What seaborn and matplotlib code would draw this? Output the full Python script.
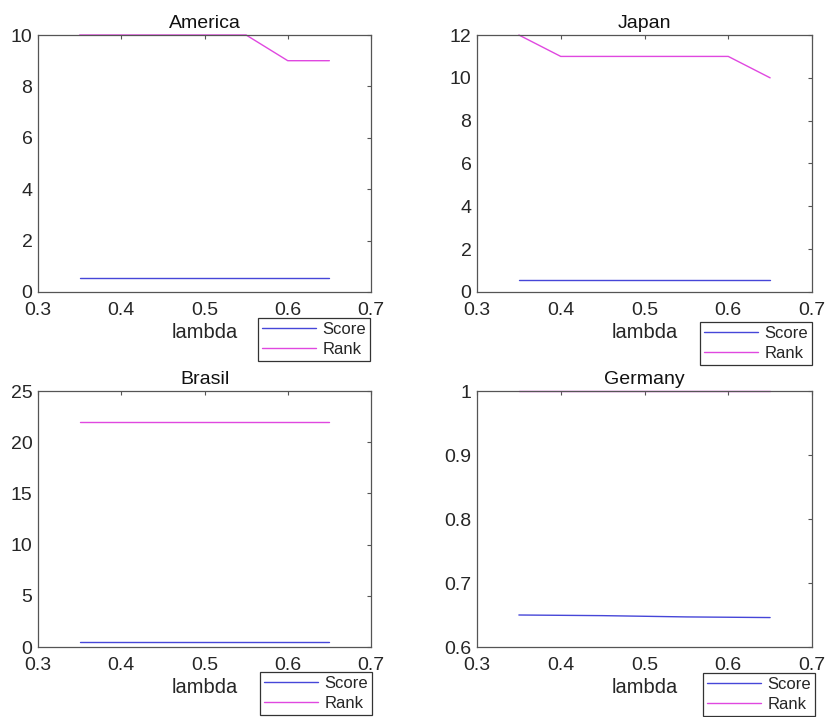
import matplotlib
matplotlib.use("Agg")
import matplotlib.pyplot as plt
import seaborn as sns
import pandas as pd
from matplotlib.ticker import FuncFormatter

lam = [0.35, 0.40, 0.45, 0.50, 0.55, 0.60, 0.65]

america_score = [0.56, 0.56, 0.56, 0.56, 0.56, 0.56, 0.56]
america_rank = [10, 10, 10, 10, 10, 9, 9]
japan_score = [0.56, 0.56, 0.56, 0.56, 0.56, 0.56, 0.56]
japan_rank = [12, 11, 11, 11, 11, 11, 10]
brasil_score = [0.52, 0.52, 0.52, 0.52, 0.52, 0.52, 0.52]
brasil_rank = [22, 22, 22, 22, 22, 22, 22]
germany_score = [0.650, 0.6495, 0.649, 0.648, 0.647, 0.6465, 0.646]
germany_rank = [1, 1, 1, 1, 1, 1, 1]

titles = ["America", "Japan", "Brasil", "Germany"]
y_limits = [(0, 10), (0, 12), (0, 25), (0.6, 1.0)]
y_ticks = [[0, 2, 4, 6, 8, 10], [0, 2, 4, 6, 8, 10, 12],
           [0, 5, 10, 15, 20, 25], [0.6, 0.7, 0.8, 0.9, 1.0]]
x_ticks = [0.3, 0.4, 0.5, 0.6, 0.7]
series_names = ["Score", "Rank"]

sns.set_theme(style="white")
plt.rcParams["font.family"] = ["Liberation Sans", "DejaVu Sans"]

fig = plt.figure(figsize=(8.27, 7.17), dpi=100)

axes_rects = [
    (38 / 827, 1 - 292 / 717, 333 / 827, 257 / 717),
    (477 / 827, 1 - 292 / 717, 335 / 827, 257 / 717),
    (38 / 827, 1 - 647 / 717, 333 / 827, 256 / 717),
    (477 / 827, 1 - 647 / 717, 335 / 827, 256 / 717),
]
legend_anchors = [
    (370 / 827, 1 - 318 / 717),
    (812 / 827, 1 - 322 / 717),
    (372 / 827, 1 - 672 / 717),
    (815 / 827, 1 - 673 / 717),
]

data = [
    (america_score, america_rank),
    (japan_score, japan_rank),
    (brasil_score, brasil_rank),
    (germany_score, germany_rank),
]

score_color = "#4646d8"
rank_color = "#e048e0"
spine_color = "#555555"

for i, (score, rank) in enumerate(data):
    ax = fig.add_axes(axes_rects[i])
    df = pd.DataFrame({"lambda": lam, "Score": score, "Rank": rank})
    sns.lineplot(data=df, x="lambda", y="Score", ax=ax, color=score_color,
                 linewidth=1.0, label=series_names[0])
    sns.lineplot(data=df, x="lambda", y="Rank", ax=ax, color=rank_color,
                 linewidth=1.0, label=series_names[1])
    for ln in ax.lines:
        ln.set_clip_on(False)
    ax.set_xlim(0.3, 0.7)
    ax.set_ylim(*y_limits[i])
    ax.set_xticks(x_ticks)
    ax.set_yticks(y_ticks[i])
    ax.xaxis.set_major_formatter(FuncFormatter(lambda v, p: f"{v:g}"))
    ax.yaxis.set_major_formatter(FuncFormatter(lambda v, p: f"{v:g}"))
    ax.tick_params(axis="both", which="both", direction="in", length=3,
                   width=0.8, colors=spine_color, labelcolor="#262626",
                   labelsize=14, top=True, right=True)
    ax.tick_params(axis="x", pad=7)
    ax.tick_params(axis="y", pad=4)
    for s in ax.spines.values():
        s.set_visible(True)
        s.set_color(spine_color)
        s.set_linewidth(0.9)
    ax.set_title(titles[i], fontsize=14, color="#111111", pad=5)
    ax.set_xlabel("lambda", fontsize=14.5, color="#262626", labelpad=3)
    ax.set_ylabel("")
    ax.set_facecolor("white")
    ax.get_legend().remove()
    handles, labels = ax.get_legend_handles_labels()
    leg = ax.legend(handles, labels, loc="upper right",
                    bbox_to_anchor=legend_anchors[i],
                    bbox_transform=fig.transFigure,
                    fontsize=12, frameon=True, fancybox=False,
                    handlelength=3.2, handletextpad=0.4,
                    borderpad=0.25, labelspacing=0.3, borderaxespad=0)
    frame = leg.get_frame()
    frame.set_edgecolor("#333333")
    frame.set_linewidth(0.9)
    frame.set_facecolor("white")
    frame.set_alpha(1)

fig.savefig("out.png", dpi=100, facecolor="white")
